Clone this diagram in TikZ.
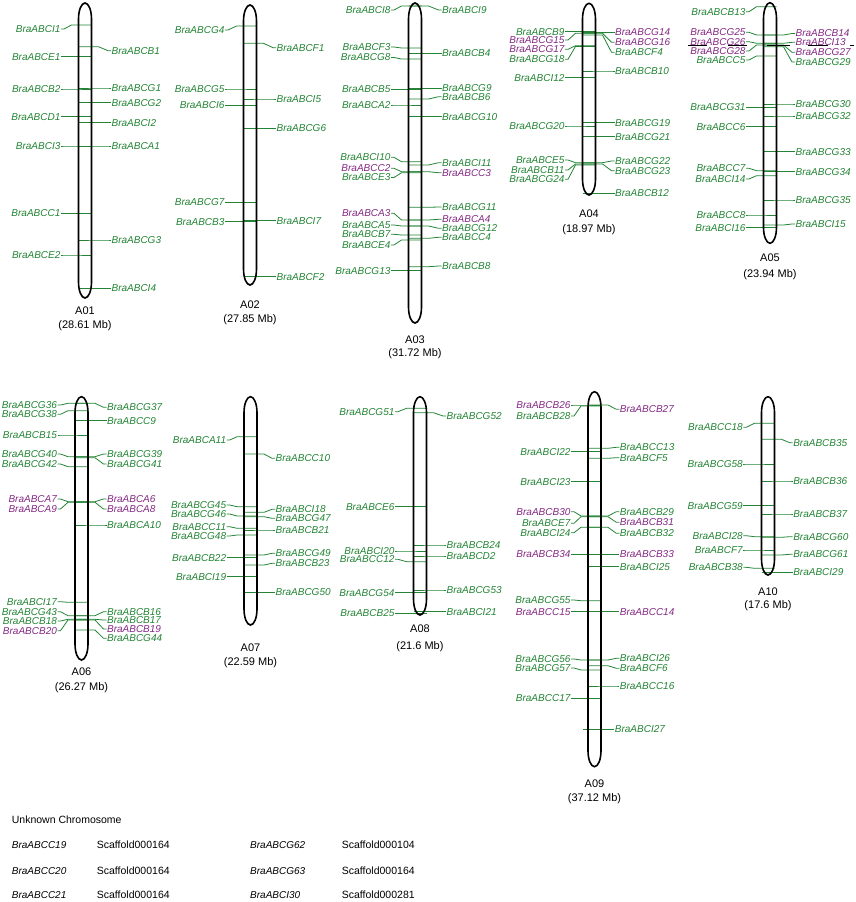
\documentclass[tikz,border=0pt]{standalone}
\usepackage{fontspec}
\setmainfont{Liberation Sans}
\definecolor{gx}{RGB}{34,132,52}
\definecolor{px}{RGB}{132,40,132}
\tikzset{
 lab/.style={font=\fontsize{10}{12}\selectfont\itshape, inner sep=0pt, outer sep=0.6pt},
 gline/.style={draw=gx, line width=0.8pt},
 chr/.style={draw=black, line width=1.6pt},
 clab/.style={font=\fontsize{11}{13}\selectfont, inner sep=0pt},
 utxt/.style={font=\fontsize{10.5}{12}\selectfont, inner sep=0pt, anchor=west},
 itxt/.style={font=\fontsize{10}{12}\selectfont\itshape, inner sep=0pt, anchor=west},
 bbar/.style={draw=black, line width=1.6pt},
}
\def\hw{6.5}
\newcommand\SetChr[3]{\def\xc{#1}\def\gl{#2}\def\gr{#3}}
\newcommand\DrawChr[6]{% top bot name size ynamelabel ysizelabel
  \draw[chr] (\xc-\hw,#1+16) -- (\xc-\hw,#2-16) arc[start angle=180,end angle=360,x radius=\hw pt,y radius=16pt] -- (\xc+\hw,#1+16) arc[start angle=0,end angle=180,x radius=\hw pt,y radius=16pt] -- cycle;
  \node[clab] (#3) at (\xc,#5) {#3};
  \node[clab] (#3mb) at (\xc,#6) {#4};
}
\newcommand\ML[4][gx]{%
  \node[lab,text=#1,anchor=east] (#4) at (\xc-\hw-\gl,#3) {#4};
  \draw[gline] (\xc+\hw,#2) -- (\xc-\hw-7,#2) -- (\xc-\hw-\gl+3,#3) -- (#4.east);
}
\newcommand\MR[4][gx]{%
  \node[lab,text=#1,anchor=west] (#4) at (\xc+\hw+\gr,#3) {#4};
  \draw[gline] (\xc-\hw,#2) -- (\xc+\hw+7,#2) -- (\xc+\hw+\gr-3,#3) -- (#4.west);
}
\begin{document}
\begin{tikzpicture}[x=1pt,y=-1pt]
\useasboundingbox (0,0) rectangle (856,902);

% ---------------- A01
\SetChr{85}{17.5}{19.5}
\ML{25}{29}{BraABCI1}
\MR{46.7}{50.7}{BraABCB1}
\ML{56.7}{56.7}{BraABCE1}
\ML{89}{89}{BraABCB2}
\MR{88}{88}{BraABCG1}
\MR{102.7}{102.7}{BraABCG2}
\ML{116.7}{116.7}{BraABCD1}
\MR{122.7}{122.7}{BraABCI2}
\ML{146}{146}{BraABCI3}
\MR{146}{146}{BraABCA1}
\ML{213.3}{213.3}{BraABCC1}
\MR{240}{240}{BraABCG3}
\ML{255}{255}{BraABCE2}
\MR{288.3}{288.3}{BraABCI4}
\DrawChr{3}{298}{A01}{(28.61 Mb)}{311}{326}

% ---------------- A02
\SetChr{250}{18.5}{19.5}
\ML{26}{30}{BraABCG4}
\MR{43.3}{47.7}{BraABCF1}
\ML{89}{89}{BraABCG5}
\MR{99}{99}{BraABCI5}
\ML{105.5}{105.5}{BraABCI6}
\MR{128.3}{128.3}{BraABCG6}
\ML{202.3}{202.3}{BraABCG7}
\ML{221.7}{221.7}{BraABCB3}
\MR{220.7}{220.7}{BraABCI7}
\MR{276.7}{276.7}{BraABCF2}
\DrawChr{5}{285}{A02}{(27.85 Mb)}{305}{320}

% ---------------- A03
\SetChr{415}{17.5}{20}
\ML{6}{10}{BraABCI8}
\MR{6}{10}{BraABCI9}
\ML{48}{47}{BraABCF3}
\ML{59}{57.5}{BraABCG8}
\MR{53.3}{53.3}{BraABCB4}
\ML{89.3}{89.3}{BraABCB5}
\MR{88.3}{88.3}{BraABCG9}
\MR{99}{96.7}{BraABCB6}
\ML{105}{105}{BraABCA2}
\MR{116.7}{116.7}{BraABCG10}
\ML{161.7}{157.3}{BraABCI10}
\MR{165}{162.7}{BraABCI11}
\ML[px]{171.7}{168.3}{BraABCC2}
\ML{172.7}{177.5}{BraABCE3}
\MR[px]{171.7}{172.7}{BraABCC3}
\MR{207.3}{207}{BraABCG11}
\ML[px]{220}{213.3}{BraABCA3}
\MR[px]{220}{219.3}{BraABCA4}
\ML{226}{225}{BraABCA5}
\MR{226}{228.3}{BraABCG12}
\ML{235}{234.3}{BraABCB7}
\ML{240}{245}{BraABCE4}
\MR{238.3}{237.3}{BraABCC4}
\MR{266.7}{266}{BraABCB8}
\ML{270.7}{270.7}{BraABCG13}
\DrawChr{3}{323}{A03}{(31.72 Mb)}{340}{354}

% ---------------- A04
\SetChr{589}{17.5}{19}
\ML{31.7}{31.7}{BraABCB9}
\ML[px]{33.3}{40}{BraABCG15}
\ML[px]{45.7}{49.3}{BraABCG17}
\ML{46.5}{59.3}{BraABCG18}
\MR[px]{32.3}{32.3}{BraABCG14}
\MR[px]{33.3}{42.3}{BraABCG16}
\MR{35}{52.3}{BraABCF4}
\MR{71}{71}{BraABCB10}
\ML{77.7}{77.7}{BraABCI12}
\MR{122.7}{122.7}{BraABCG19}
\ML{126}{126}{BraABCG20}
\MR{136.7}{136.7}{BraABCG21}
\ML{162.7}{160}{BraABCE5}
\MR{162.7}{161}{BraABCG22}
\ML{164}{170}{BraABCB11}
\MR{164}{170.7}{BraABCG23}
\ML{165}{179.3}{BraABCG24}
\MR{193.3}{193.3}{BraABCB12}
\DrawChr{3.3}{195}{A04}{(18.97 Mb)}{214}{230}

% ---------------- A05
\SetChr{770}{17.5}{18.5}
\ML{6.7}{11.7}{BraABCB13}
\ML[px]{35}{32.3}{BraABCG25}
\MR[px]{35}{33.5}{BraABCB14}
\ML[px]{43.3}{41.7}{BraABCG26}
\MR[px]{43.3}{42.3}{BraABCI13}
\ML[px]{45}{51}{BraABCG28}
\MR[px]{45}{52.3}{BraABCG27}
\ML{56}{60}{BraABCC5}
\MR{46.7}{62}{BraABCG29}
\MR{104}{104}{BraABCG30}
\ML{107.3}{107.3}{BraABCG31}
\MR{116}{116}{BraABCG32}
\ML{126.7}{126.7}{BraABCC6}
\MR{151.7}{151.7}{BraABCG33}
\ML{170.7}{168.3}{BraABCC7}
\MR{171.7}{171.7}{BraABCG34}
\ML{175.7}{179}{BraABCI14}
\MR{200}{200}{BraABCG35}
\ML{215}{215}{BraABCC8}
\MR{225}{224}{BraABCI15}
\ML{227.7}{227.7}{BraABCI16}
\DrawChr{2.7}{243.3}{A05}{(23.94 Mb)}{258}{275}
\coordinate (b1a) at (688,45.5); \coordinate (b1b) at (707,45.5);
\coordinate (b2a) at (728,45.5); \coordinate (b2b) at (747,45.5);
\coordinate (b3a) at (767,45.5); \coordinate (b3b) at (790,45.5);
\coordinate (b4a) at (808,45.5); \coordinate (b4b) at (828,45.5);
\coordinate (b5a) at (850,45.5); \coordinate (b5b) at (854,45.5);
\draw[bbar] (b1a) -- (b1b) (b2a) -- (b2b) (b3a) -- (b3b) (b4a) -- (b4b) (b5a) -- (b5b);

% ---------------- A06
\SetChr{81.5}{17.5}{18.5}
\ML{403.3}{405}{BraABCG36}
\ML{410.7}{414.3}{BraABCG38}
\MR{403.3}{407.3}{BraABCG37}
\MR{420.7}{420.7}{BraABCC9}
\ML{435}{435}{BraABCB15}
\ML{456.7}{454}{BraABCG40}
\MR{456.7}{454}{BraABCG39}
\ML{466.7}{464}{BraABCG42}
\MR{457.7}{464}{BraABCG41}
\ML[px]{501.7}{499}{BraABCA7}
\MR[px]{501.7}{499}{BraABCA6}
\ML[px]{502.3}{509}{BraABCA9}
\MR[px]{502.3}{509}{BraABCA8}
\MR{525}{525}{BraABCA10}
\ML{602.3}{601.7}{BraABCI17}
\ML{615.7}{611.7}{BraABCG43}
\MR{615.7}{611.7}{BraABCB16}
\ML{619.3}{621}{BraABCB18}
\MR{619.3}{620}{BraABCB17}
\ML[px]{620}{630.7}{BraABCB20}
\MR[px]{620}{629}{BraABCB19}
\MR{630}{638.3}{BraABCG44}
\DrawChr{396.7}{660}{A06}{(26.27 Mb)}{672}{688}

% ---------------- A07
\SetChr{250.5}{17.3}{18}
\ML{436.7}{440}{BraABCA11}
\MR{454}{458.3}{BraABCC10}
\ML{506.7}{505}{BraABCG45}
\MR{512.3}{509.3}{BraABCI18}
\ML{516}{514}{BraABCG46}
\MR{516.7}{518.3}{BraABCG47}
\ML{528.3}{526.7}{BraABCC11}
\MR{530}{530}{BraABCB21}
\ML{535}{536}{BraABCG48}
\ML{557.7}{557.7}{BraABCB22}
\MR{555}{553.3}{BraABCG49}
\MR{565}{563.3}{BraABCB23}
\ML{576.7}{576.7}{BraABCI19}
\MR{592.3}{592.3}{BraABCG50}
\DrawChr{396.7}{625}{A07}{(22.59 Mb)}{648}{663}

% ---------------- A08
\SetChr{420}{18.5}{19.5}
\ML{408.3}{411.7}{BraABCG51}
\MR{412.7}{416}{BraABCG52}
\ML{506.7}{506.7}{BraABCE6}
\MR{545}{545}{BraABCB24}
\ML{551}{551}{BraABCI20}
\MR{556}{556}{BraABCD2}
\ML{561.7}{559.3}{BraABCC12}
\MR{590}{590}{BraABCG53}
\ML{592.7}{592.7}{BraABCG54}
\ML{613.3}{613.3}{BraABCB25}
\MR{611.7}{611.7}{BraABCI21}
\DrawChr{396.7}{615}{A08}{(21.6 Mb)}{629}{647}

% ---------------- A09
\SetChr{594.5}{17}{18.3}
\ML[px]{405}{405}{BraABCB26}
\ML{406}{416}{BraABCB28}
\MR[px]{405}{409.3}{BraABCB27}
\MR{448.3}{447.3}{BraABCC13}
\ML{451.7}{451.7}{BraABCI22}
\MR{458.3}{457.7}{BraABCF5}
\ML{481.7}{481.7}{BraABCI23}
\ML[px]{516}{511.7}{BraABCB30}
\MR{516}{511.7}{BraABCB29}
\ML{516.7}{523.3}{BraABCE7}
\MR[px]{516.7}{522.3}{BraABCB31}
\ML{527.3}{532.7}{BraABCI24}
\MR{527.3}{533.3}{BraABCB32}
\ML[px]{554.3}{554.3}{BraABCB34}
\MR[px]{554.3}{554.3}{BraABCB33}
\MR{566.7}{566.7}{BraABCI25}
\ML{600.7}{600}{BraABCG55}
\ML[px]{611.7}{611.7}{BraABCC15}
\MR[px]{611.7}{611.7}{BraABCC14}
\ML{660}{659}{BraABCG56}
\MR{660}{658.3}{BraABCI26}
\ML{670}{668}{BraABCG57}
\MR{665.7}{668.3}{BraABCF6}
\MR{686}{686}{BraABCC16}
\ML{698.3}{698.3}{BraABCC17}
\node[lab,text=gx,anchor=west] (BraABCI27) at (614.3,729.3) {BraABCI27};
\coordinate (i27s) at (583,729.3);
\draw[gline] (i27s) -- (BraABCI27.west);
\DrawChr{391.7}{766.7}{A09}{(37.12 Mb)}{783.5}{799}

% ---------------- A10
\SetChr{768}{18.2}{18.2}
\ML{423.3}{427.3}{BraABCC18}
\MR{439.3}{442.7}{BraABCB35}
\ML{464}{464}{BraABCG58}
\MR{481}{481}{BraABCB36}
\ML{505.7}{505.7}{BraABCG59}
\MR{514}{514}{BraABCB37}
\ML{536.7}{535.7}{BraABCI28}
\MR{537.3}{536.7}{BraABCG60}
\ML{550}{550}{BraABCF7}
\MR{555}{554.3}{BraABCG61}
\ML{568.3}{567.3}{BraABCB38}
\MR{572.3}{572.3}{BraABCI29}
\DrawChr{396.7}{575}{A10}{(17.6 Mb)}{592}{606}

% ---------------- Unknown chromosome
\node[utxt] (unk) at (11.7,819.3) {Unknown Chromosome};
\node[itxt] (c19) at (11.7,845) {BraABCC19};
\node[utxt] (s1) at (96.7,845) {Scaffold000164};
\node[itxt] (g62) at (250,845) {BraABCG62};
\node[utxt] (s4) at (341.7,845) {Scaffold000104};
\node[itxt] (c20) at (11.7,870.7) {BraABCC20};
\node[utxt] (s2) at (96.7,870.7) {Scaffold000164};
\node[itxt] (g63) at (250,870.7) {BraABCG63};
\node[utxt] (s5) at (341.7,870.7) {Scaffold000164};
\node[itxt] (c21) at (11.7,895) {BraABCC21};
\node[utxt] (s3) at (96.7,895) {Scaffold000164};
\node[itxt] (i30) at (250,895) {BraABCI30};
\node[utxt] (s6) at (341.7,895) {Scaffold000281};
\end{tikzpicture}
\end{document}
